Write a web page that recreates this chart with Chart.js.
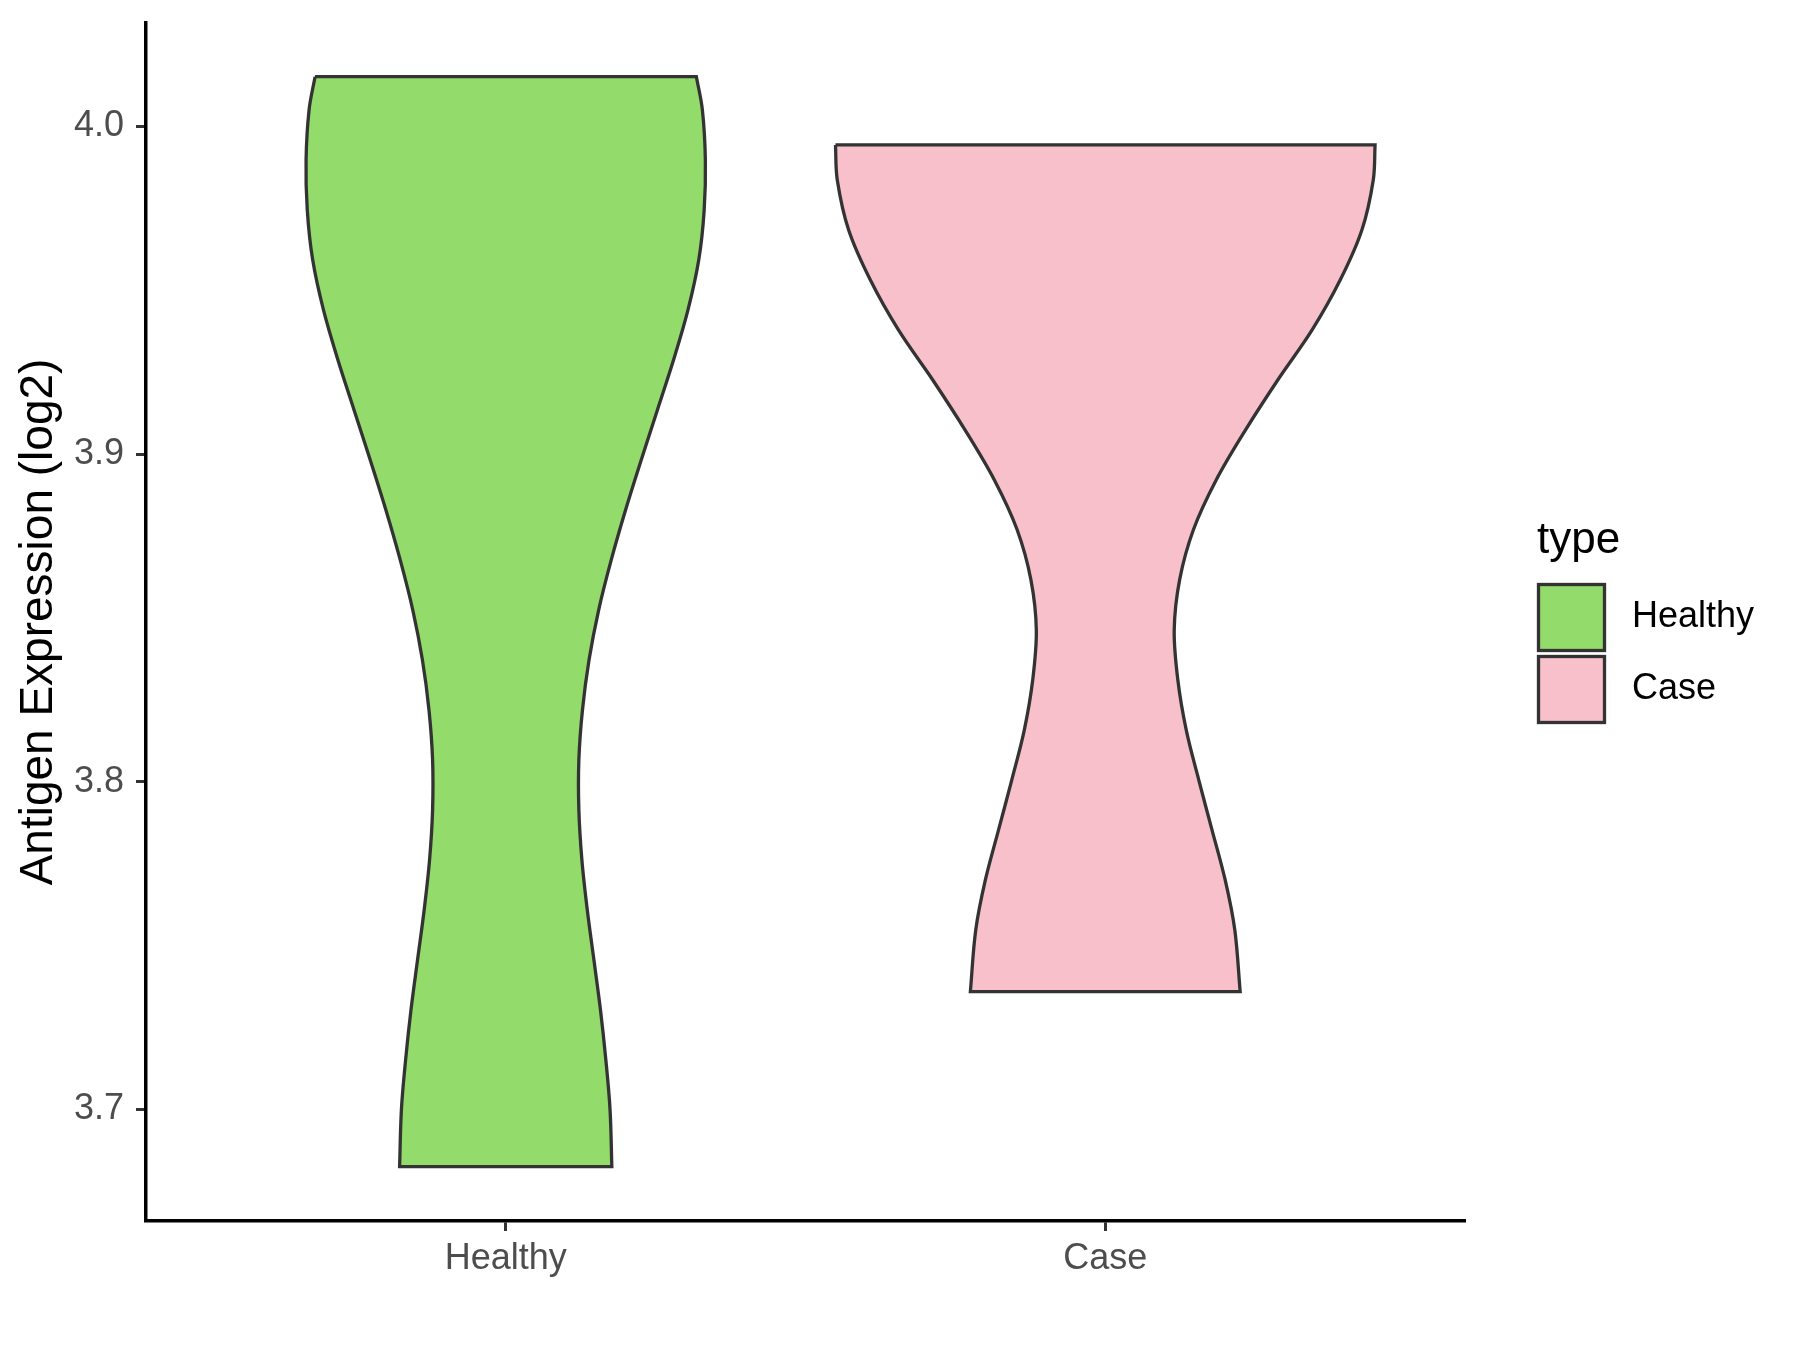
<!DOCTYPE html>
<html>
<head>
<meta charset="utf-8">
<title>Antigen Expression</title>
<script src="https://cdn.jsdelivr.net/npm/chart.js@4/dist/chart.umd.min.js"></script>
<style>
  body { margin: 0; background: #fff; }
  canvas { display: block; }
</style>
</head>
<body>
<canvas id="chart" width="1800" height="1350"></canvas>
<script>
const categories = ['Healthy', 'Case'];
const fillColors = ['#93DB6A', '#F7C0CB'];
const yTicks = [3.7, 3.8, 3.9, 4.0];

// violin outlines: y (log2) and half width in x-axis units
const healthyY = [4.0152, 4.0051, 3.9898, 3.9745, 3.9593, 3.9440, 3.9288, 3.9135, 3.8982, 3.8830, 3.8677, 3.8524,
  3.8372, 3.8219, 3.8067, 3.7914, 3.7762, 3.7609, 3.7457, 3.7304, 3.7151, 3.6999, 3.6825];
const healthyHalfWidth = [0.318, 0.328, 0.333, 0.331, 0.322, 0.304, 0.280, 0.253, 0.226, 0.200, 0.176, 0.155,
  0.139, 0.128, 0.122, 0.122, 0.127, 0.136, 0.147, 0.158, 0.167, 0.174, 0.177];

const caseY = [3.9944, 3.9837, 3.9684, 3.9532, 3.9379, 3.9227, 3.9074, 3.8921, 3.8769, 3.8616, 3.8463, 3.8311,
  3.8158, 3.8005, 3.7853, 3.7700, 3.7548, 3.7359];
const caseHalfWidth = [0.450, 0.447, 0.428, 0.392, 0.345, 0.288, 0.234, 0.185, 0.147, 0.124, 0.115, 0.121,
  0.135, 0.156, 0.178, 0.200, 0.216, 0.225];

const FONT = '"Liberation Sans", Arial, Helvetica, sans-serif';

// closed outline: left side top->bottom, right side bottom->top
// corners are doubled so the flat ends stay straight with tension
function violinOutline(center, ys, halfs) {
  const left = ys.map((y, i) => ({ x: center - halfs[i], y: y }));
  const right = ys.map((y, i) => ({ x: center + halfs[i], y: y })).reverse();
  const n = left.length;
  return [...left, left[n - 1], right[0], ...right, right[n - 1], left[0]];
}

const legendPlugin = {
  id: 'typeLegend',
  afterDraw(chart) {
    const ctx = chart.ctx;
    const area = chart.chartArea;
    const x0 = area.right + 72;
    const midY = (area.top + area.bottom) / 2;
    ctx.save();
    ctx.fillStyle = '#000';
    ctx.font = '44px ' + FONT;
    ctx.textAlign = 'left';
    ctx.textBaseline = 'alphabetic';
    ctx.fillText('type', x0, midY - 69);
    chart.data.datasets.forEach((ds, i) => {
      const top = midY - 37.5 + i * 72;
      ctx.fillStyle = ds.backgroundColor;
      ctx.fillRect(x0 + 1.5, top, 66, 66);
      ctx.lineWidth = 3.3;
      ctx.strokeStyle = ds.borderColor;
      ctx.strokeRect(x0 + 1.5, top, 66, 66);
      ctx.fillStyle = '#000';
      ctx.font = '36px ' + FONT;
      ctx.textBaseline = 'middle';
      ctx.fillText(ds.label, x0 + 95, top + 33);
    });
    ctx.restore();
  }
};

new Chart(document.getElementById('chart'), {
  type: 'line',
  data: {
    datasets: [
      {
        label: categories[0],
        data: violinOutline(1, healthyY, healthyHalfWidth),
        backgroundColor: fillColors[0],
        borderColor: '#333333',
        borderWidth: 3.3,
        fill: 'shape',
        tension: 0.35,
        pointRadius: 0
      },
      {
        label: categories[1],
        data: violinOutline(2, caseY, caseHalfWidth),
        backgroundColor: fillColors[1],
        borderColor: '#333333',
        borderWidth: 3.3,
        fill: 'shape',
        tension: 0.35,
        pointRadius: 0
      }
    ]
  },
  options: {
    responsive: false,
    animation: false,
    devicePixelRatio: 1,
    layout: {
      padding: { top: 23, right: 335, left: 0, bottom: 0 }
    },
    plugins: {
      legend: { display: false },
      tooltip: { enabled: false }
    },
    scales: {
      x: {
        type: 'linear',
        min: 0.4,
        max: 2.6,
        afterBuildTicks: (scale) => {
          scale.ticks = categories.map((c, i) => ({ value: i + 1 }));
        },
        afterFit: (scale) => {
          scale.height = 129;
          scale.paddingLeft = 0;
          scale.paddingRight = 0;
        },
        grid: {
          drawOnChartArea: false,
          drawTicks: true,
          tickLength: 10,
          tickColor: '#333333',
          tickWidth: 3
        },
        border: { display: true, color: '#000', width: 3.5 },
        ticks: {
          padding: 6,
          maxRotation: 0,
          color: '#4D4D4D',
          font: { family: FONT, size: 36 },
          callback: (v) => categories[Math.round(v) - 1]
        }
      },
      y: {
        type: 'linear',
        min: 3.6659,
        max: 4.0316,
        afterBuildTicks: (scale) => {
          scale.ticks = yTicks.map(v => ({ value: v }));
        },
        afterFit: (scale) => {
          scale.width = 146;
          scale.paddingTop = 0;
          scale.paddingBottom = 0;
        },
        grid: {
          drawOnChartArea: false,
          drawTicks: true,
          tickLength: 10,
          tickColor: '#333333',
          tickWidth: 3
        },
        border: { display: true, color: '#000', width: 3.5 },
        ticks: {
          padding: 12,
          color: '#4D4D4D',
          font: { family: FONT, size: 36 },
          callback: (v) => v.toFixed(1)
        },
        title: {
          display: true,
          text: 'Antigen Expression (log2)',
          color: '#000',
          font: { family: FONT, size: 46, lineHeight: 1.2 },
          padding: { top: 12, bottom: 0 }
        }
      }
    }
  },
  plugins: [legendPlugin]
});
</script>
</body>
</html>
